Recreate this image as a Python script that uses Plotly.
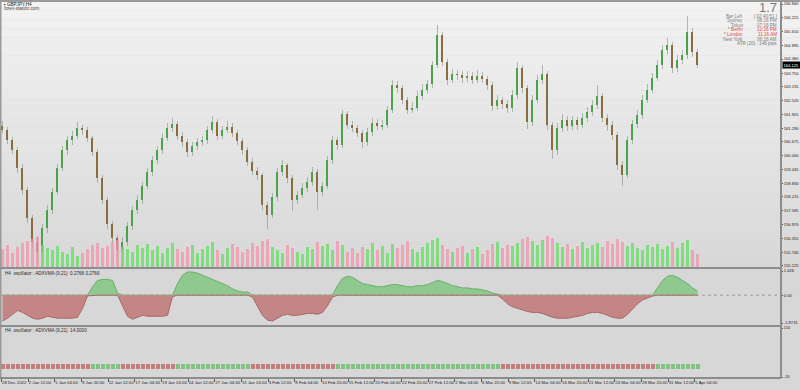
import plotly.graph_objects as go

# ---------------- data ----------------
OPEN0 = 161.40
closes = [
    161.21, 160.76, 160.31, 159.51, 158.52, 157.27, 156.20, 155.75, 156.82, 157.63,
    158.43, 159.51, 160.31, 160.76, 160.94, 161.30, 161.21, 160.85, 160.22, 159.06,
    158.08, 157.00, 156.38, 155.84, 156.20, 156.91, 157.63, 158.08, 158.70, 159.33,
    159.87, 160.31, 160.85, 161.30, 161.47, 160.94, 160.67, 160.22, 160.49, 160.67,
    160.76, 161.21, 161.56, 160.94, 161.21, 161.34, 161.07, 160.71, 160.31, 159.78,
    159.37, 159.19, 157.85, 157.41, 158.21, 159.33, 159.64, 159.06, 158.08, 158.30,
    158.61, 158.88, 159.33, 158.43, 158.70, 159.87, 160.76, 160.54, 161.92, 161.43,
    161.30, 161.07, 160.67, 161.12, 161.52, 161.38, 161.43, 162.10, 163.22, 163.08,
    162.55, 162.10, 162.19, 162.73, 163.00, 163.26, 164.11, 165.45, 164.25, 163.44,
    163.71, 163.67, 163.53, 163.62, 163.44, 163.62, 163.49, 163.22, 162.28, 162.55,
    162.37, 162.19, 162.77, 163.98, 163.08, 161.56, 162.55, 163.44, 163.71, 161.43,
    160.31, 161.30, 161.65, 161.38, 161.65, 161.43, 161.74, 162.01, 162.32, 162.73,
    161.74, 161.43, 160.98, 159.64, 159.19, 160.76, 161.47, 161.88, 162.55, 163.00,
    163.53, 164.11, 164.78, 165.01, 163.98, 164.34, 164.56, 165.59, 164.69, 164.125,
]
highs = [
    161.62, 161.35, 160.90, 160.45, 159.70, 158.65, 157.40, 156.45, 157.00, 157.85,
    158.60, 159.70, 160.50, 160.95, 161.15, 161.55, 161.45, 161.35, 160.95, 160.35,
    159.20, 158.20, 157.15, 156.50, 156.40, 157.10, 157.80, 158.30, 158.90, 159.50,
    160.05, 160.50, 161.05, 161.50, 161.75, 161.60, 161.10, 160.80, 160.65, 160.85,
    160.95, 161.40, 161.85, 161.70, 161.40, 161.60, 161.50, 161.20, 160.85, 160.45,
    159.95, 159.55, 159.30, 158.00, 158.40, 159.50, 159.85, 159.75, 159.20, 158.50,
    158.85, 159.10, 159.55, 159.45, 158.90, 160.05, 160.95, 160.90, 162.10, 162.05,
    161.60, 161.45, 161.20, 161.30, 161.75, 161.70, 161.65, 162.30, 163.45, 163.40,
    163.20, 162.70, 162.45, 162.95, 163.25, 163.45, 164.30, 165.90, 165.60, 164.40,
    163.95, 163.90, 163.85, 163.85, 163.80, 163.90, 163.80, 163.60, 163.35, 162.75,
    162.70, 162.55, 163.00, 164.25, 164.10, 163.20, 162.75, 163.65, 164.10, 163.85,
    161.55, 161.50, 161.90, 161.85, 161.85, 161.80, 161.95, 162.25, 162.55, 163.20,
    162.85, 161.90, 161.60, 161.10, 159.80, 160.95, 161.65, 162.10, 162.75, 163.25,
    163.75, 164.35, 165.00, 165.30, 165.15, 164.55, 164.80, 166.30, 165.75, 164.85,
]
lows = [
    161.05, 160.60, 160.15, 159.30, 158.30, 157.05, 155.95, 155.30, 155.55, 156.60,
    157.45, 158.30, 159.35, 160.10, 160.55, 160.80, 161.00, 160.65, 160.05, 158.85,
    157.90, 156.80, 156.15, 155.39, 155.60, 156.00, 156.75, 157.45, 157.90, 158.55,
    159.15, 159.70, 160.15, 160.70, 161.10, 160.75, 160.45, 160.00, 160.05, 160.30,
    160.50, 160.60, 161.05, 160.75, 160.80, 161.05, 160.90, 160.55, 160.10, 159.60,
    159.20, 158.95, 157.65, 156.80, 157.25, 158.05, 159.15, 158.85, 157.60, 157.90,
    158.15, 158.45, 158.70, 157.65, 158.25, 158.55, 159.70, 160.30, 160.40, 161.25,
    161.10, 160.90, 160.40, 160.50, 160.95, 161.20, 161.20, 161.30, 161.95, 162.85,
    162.35, 161.90, 161.95, 162.05, 162.55, 162.85, 163.10, 164.00, 164.05, 163.20,
    163.30, 163.45, 163.30, 163.35, 163.25, 163.30, 163.30, 163.00, 162.05, 162.10,
    162.15, 161.95, 162.00, 162.60, 162.85, 161.25, 161.40, 162.40, 163.25, 161.20,
    159.90, 160.10, 161.10, 161.15, 161.20, 161.20, 161.30, 161.55, 161.85, 162.15,
    161.55, 161.15, 160.75, 159.40, 158.70, 159.05, 160.60, 161.30, 161.70, 162.40,
    162.85, 163.40, 163.95, 164.55, 163.75, 163.80, 164.15, 164.40, 164.45, 164.00,
]
volumes = [
    18, 22, 15, 20, 24, 26, 28, 30, 22, 19,
    17, 21, 16, 14, 20, 12, 15, 18, 22, 24,
    19, 21, 25, 27, 20, 18, 16, 22, 19, 23,
    17, 21, 15, 19, 24, 18, 16, 20, 22, 15,
    18, 21, 25, 17, 14, 19, 23, 20, 16, 18,
    24, 21, 26, 28, 20, 17, 15, 22, 19, 16,
    14, 20, 18, 25, 21, 23, 17, 26, 22, 16,
    19, 15, 20, 18, 24, 17, 21, 15, 23, 19,
    22, 26, 18, 16, 20, 24, 27, 29, 22, 18,
    16, 19, 21, 15, 18, 20, 14, 17, 23, 25,
    19, 22, 21, 24, 28, 30, 26, 22, 27, 31,
    29, 24, 20, 23, 18, 21, 25, 19, 22, 24,
    20, 26, 23, 28, 25, 21, 24, 19, 17, 22,
    20, 23, 18, 21, 25, 19, 24, 27, 17, 14,
]
osc = [
    -1.74, -1.55, -1.29, -1.03, -1.16, -1.36, -1.55, -1.62, -1.55, -1.42,
    -1.49, -1.55, -1.55, -1.55, -1.55, -1.49, -0.90, -0.05, 0.57, 0.99,
    1.06, 1.06, 0.99, 0.14, -0.71, -1.42, -1.62, -1.49, -1.36, -1.42,
    -1.42, -1.42, -1.42, -1.36, -0.10, 0.78, 1.34, 1.56, 1.56, 1.48,
    1.34, 1.20, 1.06, 0.92, 0.78, 0.64, 0.42, 0.28, 0.21, 0.21,
    -0.13, -0.71, -1.36, -1.68, -1.74, -1.55, -1.36, -1.29, -1.36, -1.36,
    -1.29, -1.23, -1.23, -1.29, -1.16, -0.71, -0.13, 0.64, 1.13, 1.27,
    1.20, 0.99, 0.78, 0.71, 0.64, 0.57, 0.57, 0.64, 0.71, 0.71,
    0.64, 0.57, 0.57, 0.64, 0.64, 0.71, 0.85, 0.99, 0.92, 0.78,
    0.64, 0.57, 0.49, 0.49, 0.42, 0.42, 0.35, 0.28, 0.14, 0.07,
    -0.26, -0.58, -0.78, -0.90, -0.97, -1.10, -1.16, -1.16, -1.23, -1.36,
    -1.49, -1.55, -1.55, -1.55, -1.49, -1.42, -1.36, -1.23, -1.16, -1.16,
    -1.23, -1.36, -1.49, -1.55, -1.55, -1.29, -0.90, -0.58, -0.32, -0.19,
    -0.06, 0.49, 0.99, 1.27, 1.34, 1.20, 0.99, 0.78, 0.49, 0.2766,
]
STRIP_LEVEL = 14.0
price_ticks = [166.840, 166.225, 165.610, 164.995, 164.380, 163.750, 163.135,
               162.520, 161.905, 161.290, 160.675, 160.060, 159.445, 158.830,
               158.215, 157.585, 156.970, 156.355, 155.740, 155.125]
osc_ticks = [1.626, 0.0, -1.8731]
osc_tick_text = ["1.626", "0.00", "-1.8731"]
strip_ticks = [110, -20]
date_labels = ["28 Dec 2022", "2 Jan 12:00", "5 Jan 04:00", "9 Jan 20:00", "12 Jan 12:00",
               "17 Jan 04:00", "19 Jan 20:00", "24 Jan 12:00", "27 Jan 04:00", "31 Jan 20:00",
               "3 Feb 12:00", "8 Feb 04:00", "10 Feb 20:00", "15 Feb 12:00", "20 Feb 04:00",
               "22 Feb 20:00", "27 Feb 12:00", "2 Mar 04:00", "6 Mar 20:00", "9 Mar 12:00",
               "14 Mar 04:00", "16 Mar 20:00", "21 Mar 12:00", "24 Mar 04:00", "28 Mar 20:00",
               "31 Mar 12:00", "5 Apr 04:00"]
info_rows = [("Bar Left", "[ 02:40:51 ]", False), ("Sydney", "08:16 PM", False),
             ("Tokyo", "07:16 PM", False), ("* Berlin", "12:16 PM", True),
             ("* London", "11:16 AM", True), ("New York", "06:16 AM", False)]
ATR_TEXT = "ATR (20) : 146 pips"
SPREAD_TEXT = "1.7"

# ---------------- derived ----------------
BARS_PER_CANDLE = 3      # each drawn candle stands for 3 H4 bars
BARS_PER_LABEL = 16
N = len(closes)
xs = [i * BARS_PER_CANDLE for i in range(N)]
opens = [OPEN0] + closes[:-1]
up = [c >= o for o, c in zip(opens, closes)]

FONT = "Liberation Sans"
GREEN_BODY = "#4aa24a"
BROWN_BODY = "#8a6c3e"

fig = go.Figure()

# volume (behind candles)
fig.add_trace(go.Bar(
    x=xs, y=volumes, yaxis="y4", width=1.5,
    marker=dict(color=["rgba(105,222,105,0.8)" if u else "rgba(240,150,172,0.75)" for u in up],
                line_width=0),
    hoverinfo="skip"))
# wicks
fig.add_trace(go.Bar(
    x=xs, y=[h - l for h, l in zip(highs, lows)], base=lows, width=0.6,
    marker=dict(color="rgba(120,140,115,0.55)", line_width=0), hoverinfo="skip"))
# bodies
fig.add_trace(go.Bar(
    x=xs, y=[max(abs(c - o), 0.03) for o, c in zip(opens, closes)],
    base=[min(o, c) for o, c in zip(opens, closes)], width=1.15,
    marker=dict(color=[GREEN_BODY if u else BROWN_BODY for u in up], line_width=0),
    hoverinfo="skip"))

# oscillator areas
fig.add_trace(go.Scatter(
    x=xs, y=[max(v, 0) for v in osc], yaxis="y2", mode="lines",
    line=dict(color="#6aae6a", width=1), fill="tozeroy", fillcolor="#8fc98f",
    hoverinfo="skip"))
fig.add_trace(go.Scatter(
    x=xs, y=[min(v, 0) for v in osc], yaxis="y2", mode="lines",
    line=dict(color="#aa6666", width=1), fill="tozeroy", fillcolor="#c48585",
    hoverinfo="skip"))

# signal strip
fig.add_trace(go.Bar(
    x=xs, y=[STRIP_LEVEL] * N, yaxis="y3", width=2.4,
    marker=dict(color=["#82c282" if v > 0 else "#c47e7e" for v in osc], line_width=0),
    hoverinfo="skip"))

# ---------------- layout geometry ----------------
W, H = 800, 390
ML, MR, MT, MB = 0, 19, 2, 12
PW, PH = W - ML - MR, H - MT - MB
Y_SEP1, Y_SEP2, Y_BOT = 268, 326, 378


def py(ypx):
    return (H - MB - ypx) / PH


def px(xpx):
    return (xpx - ML) / PW


shapes = []
# main panel vertical gradient
nb = 30
for i in range(nb):
    y0px = MT + (Y_SEP1 - MT) * i / nb
    y1px = MT + (Y_SEP1 - MT) * (i + 1) / nb
    g = int(243 - (243 - 216) * (i + 0.5) / nb)
    shapes.append(dict(type="rect", xref="paper", yref="paper", x0=px(0), x1=px(W),
                       y0=py(y1px), y1=py(y0px), fillcolor=f"rgb({g},{g},{g})",
                       line_width=0, layer="below"))
# borders / separators
LINE = "#8d8d8d"
shapes += [
    dict(type="rect", xref="paper", yref="paper", x0=px(0), x1=px(W), y0=py(2), y1=py(0),
         fillcolor="#9a9a9a", line_width=0, layer="above"),
    dict(type="rect", xref="paper", yref="paper", x0=px(0), x1=px(1.5), y0=py(Y_BOT), y1=py(0),
         fillcolor="#9a9a9a", line_width=0, layer="above"),
    dict(type="line", xref="paper", yref="paper", x0=0, x1=1, y0=py(Y_SEP1), y1=py(Y_SEP1),
         line=dict(color=LINE, width=2), layer="above"),
    dict(type="line", xref="paper", yref="paper", x0=0, x1=1, y0=py(Y_SEP2), y1=py(Y_SEP2),
         line=dict(color=LINE, width=2), layer="above"),
    dict(type="line", xref="paper", yref="paper", x0=0, x1=1, y0=0, y1=0,
         line=dict(color=LINE, width=2), layer="above"),
    dict(type="line", xref="paper", yref="paper", x0=1, x1=1, y0=0, y1=1,
         line=dict(color=LINE, width=2), layer="above"),
    dict(type="line", xref="paper", yref="y2", x0=0, x1=1, y0=0, y1=0,
         line=dict(color="#9c9c9c", width=1, dash="dot"), layer="below"),
]

# axis ranges (price per pixel from reading the price scale)
main_range = [155.034, 166.93]
osc_range = [-2.075, 1.828]
strip_range = [-22.65, 115.3]

small = dict(family=FONT, size=4.6, color="#2a2a2a")
annotations = [
    dict(xref="paper", yref="paper", x=px(2), y=py(4.5), xanchor="left", yanchor="middle",
         text="▪ GBPJPY,H4", showarrow=False, font=dict(family=FONT, size=4.6, color="#222")),
    dict(xref="paper", yref="paper", x=px(2), y=py(9), xanchor="left", yanchor="middle",
         text="forex-station.com", showarrow=False, font=dict(family=FONT, size=4.6, color="#444")),
    dict(xref="paper", yref="paper", x=px(3), y=py(273.5), xanchor="left", yanchor="middle",
         text="H4  oscillator : ADXVMA (9,21)  %.4f %.4f" % (osc[-1], osc[-1]), showarrow=False,
         font=small),
    dict(xref="paper", yref="paper", x=px(3), y=py(330), xanchor="left", yanchor="middle",
         text="H4  oscillator : ADXVMA (9,21)  %.4f" % STRIP_LEVEL, showarrow=False, font=small),
    dict(xref="paper", yref="paper", x=px(779), y=py(8), xanchor="right", yanchor="middle",
         text=SPREAD_TEXT, showarrow=False, font=dict(family=FONT, size=13, color="#7c7c7c")),
    dict(xref="paper", yref="paper", x=px(779), y=py(44), xanchor="right", yanchor="middle",
         text=ATR_TEXT, showarrow=False, font=dict(family=FONT, size=4.6, color="#777")),
    dict(xref="paper", yref="y", x=1, y=closes[-1], xanchor="left", yanchor="middle", xshift=0.5,
         text="%.3f" % closes[-1], showarrow=False, bgcolor="#000000", borderpad=0.5,
         font=dict(family=FONT, size=4.1, color="#ffffff")),
]
for i, (lab, val, red) in enumerate(info_rows):
    col = "#e04848" if red else "#808080"
    yy = py(16 + 4.6 * i)
    annotations.append(dict(xref="paper", yref="paper", x=px(745), y=yy, xanchor="right",
                            yanchor="middle", text=lab, showarrow=False,
                            font=dict(family=FONT, size=4.6, color=col)))
    annotations.append(dict(xref="paper", yref="paper", x=px(779), y=yy, xanchor="right",
                            yanchor="middle", text=val, showarrow=False,
                            font=dict(family=FONT, size=4.6, color=col)))

tick_font = dict(family=FONT, size=4.1, color="#222")
fig.update_layout(
    width=W, height=H, margin=dict(l=ML, r=MR, t=MT, b=MB),
    paper_bgcolor="#d7d7d7", plot_bgcolor="rgba(0,0,0,0)",
    showlegend=False, barmode="overlay", bargap=0,
    shapes=shapes, annotations=annotations,
    xaxis=dict(domain=[0, 1], anchor="y3", range=[-1.5, 467.1],
               tickvals=[j * BARS_PER_LABEL - 0.6 for j in range(len(date_labels))],
               ticktext=date_labels, ticklabelposition="outside right", tickangle=0,
               ticks="outside", ticklen=3, tickcolor="#555", tickwidth=1,
               tickfont=dict(family=FONT, size=4.3, color="#222"),
               showgrid=False, zeroline=False, showline=False, automargin=False),
    yaxis=dict(domain=[py(Y_SEP1), 1], anchor="x", side="right", range=main_range,
               tickvals=price_ticks, ticktext=["%.3f" % v for v in price_ticks],
               ticks="outside", ticklen=1, tickcolor="#555", tickfont=tick_font,
               showgrid=False, zeroline=False, showline=False, automargin=False),
    yaxis4=dict(overlaying="y", domain=[py(Y_SEP1), 1], range=[0, 258], visible=False),
    yaxis2=dict(domain=[py(Y_SEP2), py(Y_SEP1)], anchor="x", side="right", range=osc_range,
                tickvals=osc_ticks, ticktext=osc_tick_text, ticks="outside", ticklen=1,
                tickcolor="#555", tickfont=tick_font,
                showgrid=False, zeroline=False, showline=False, automargin=False),
    yaxis3=dict(domain=[0, py(Y_SEP2)], anchor="x", side="right", range=strip_range,
                tickvals=strip_ticks, ticktext=[str(v) for v in strip_ticks], ticks="outside",
                ticklen=1, tickcolor="#555", tickfont=tick_font,
                showgrid=False, zeroline=False, showline=False, automargin=False),
)

fig.write_html("out.html", config={"displayModeBar": False},
               post_script="document.body.style.margin='0';document.body.style.overflow='hidden';")
